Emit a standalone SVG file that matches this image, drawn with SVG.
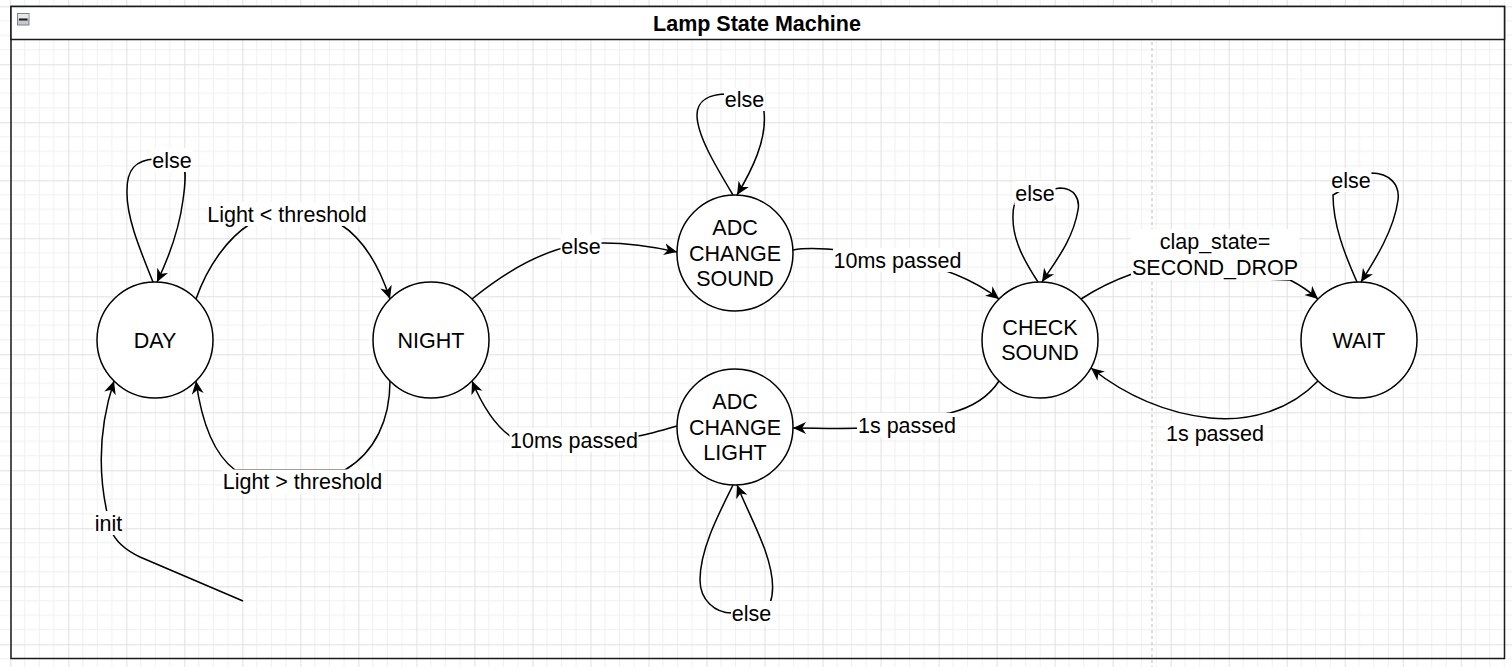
<svg xmlns="http://www.w3.org/2000/svg" width="1512" height="667" viewBox="0 0 1512 667">
<style>
text{font-family:"Liberation Sans",Arial,sans-serif;font-size:21.5px;fill:#000;text-anchor:middle}
.title{font-weight:bold;font-size:21.5px}
.node{fill:#fff;stroke:#000;stroke-width:1.5}
.edge{fill:none;stroke:#000;stroke-width:1.5;marker-end:url(#arrow)}
.lbg{fill:#fff}
</style>
<defs>
<marker id="arrow" markerUnits="userSpaceOnUse" markerWidth="15" markerHeight="14" refX="13" refY="7" orient="auto">
<path d="M0,1 L13,7 L0,13 L3.8,7 Z" fill="#000"/>
</marker>
<pattern id="grid" patternUnits="userSpaceOnUse" x="10.28" y="6.3" width="58.02" height="58">
<path d="M14.5,0V58M29,0V58M43.5,0V58M0,14.5H58.02M0,29H58.02M0,43.5H58.02" stroke="#f0f0f0" stroke-width="1" fill="none"/>
<path d="M0.5,0V58M0,0.5H58.02" stroke="#e0e0e0" stroke-width="1" fill="none"/>
</pattern>
</defs>
<rect x="0" y="0" width="1512" height="667" fill="#fff"/>
<rect x="0" y="0" width="1512" height="667" fill="url(#grid)"/>
<line x1="1152" y1="0" x2="1152" y2="667" stroke="#bdbdbd" stroke-width="1" stroke-dasharray="3,3"/>
<g id="container">
<rect x="11" y="6.5" width="1493.5" height="652" fill="none" stroke="#1a1a1a" stroke-width="1.5"/>
<rect x="11" y="6.5" width="1493.5" height="33" fill="#fff" stroke="#1a1a1a" stroke-width="1.5"/>
<text class="title" x="757" y="31">Lamp State Machine</text>
<rect x="17.5" y="13.5" width="11.5" height="11.5" fill="#c4c8cf" stroke="#7e828a" stroke-width="1"/>
<rect x="18" y="14" width="10.5" height="4.5" fill="#e6e8ec"/>
<line x1="19" y1="19.5" x2="27.5" y2="19.5" stroke="#1a1a1a" stroke-width="2"/>
</g>
<g id="node-day"><circle class="node" cx="155" cy="340" r="58"/><text x="155" y="347.5">DAY</text></g>
<g id="node-night"><circle class="node" cx="431" cy="340" r="58"/><text x="431" y="347.5">NIGHT</text></g>
<g id="node-adc-sound"><circle class="node" cx="735" cy="253" r="58"/><text x="735" y="235">ADC</text><text x="735" y="260.5">CHANGE</text><text x="735" y="286">SOUND</text></g>
<g id="node-adc-light"><circle class="node" cx="735" cy="427" r="58"/><text x="735" y="409">ADC</text><text x="735" y="434.5">CHANGE</text><text x="735" y="460">LIGHT</text></g>
<g id="node-check-sound"><circle class="node" cx="1040" cy="340" r="58"/><text x="1040" y="334.5">CHECK</text><text x="1040" y="360">SOUND</text></g>
<g id="node-wait"><circle class="node" cx="1359" cy="340" r="58"/><text x="1359" y="347.5">WAIT</text></g>
<g id="connectors">
<path class="edge" d="M153,282 C138,245 126,215 127,190 C127,170 135,160 155,159 L180,160 C186,162 186,180 183,200 C179,230 170,255 157,282"/>
<rect class="lbg" x="151.5" y="148" width="41" height="24"/><text x="172" y="167.5">else</text>
<path class="edge" d="M196,299 C208,265 228,238 250,224 C270,212 320,212 340,224 C362,238 378,262 390,299"/>
<rect class="lbg" x="206.5" y="202" width="161" height="24"/><text x="287" y="221.5">Light &lt; threshold</text>
<path class="edge" d="M390,381 C390,420 375,452 345,470 L235,470 C215,455 202,425 196,381"/>
<rect class="lbg" x="222" y="469.5" width="161" height="24"/><text x="302.5" y="489">Light &gt; threshold</text>
<path class="edge" d="M243,601 L140,557 Q117,546 111,530 L110,525 C98,480 98,430 114,381"/>
<rect class="lbg" x="94" y="511" width="29" height="24"/><text x="108.5" y="530.5">init</text>
<path class="edge" d="M472,299 C505,272 540,252 575,245 C610,240 645,245 677,252"/>
<rect class="lbg" x="560.5" y="234.5" width="41" height="24"/><text x="581" y="254">else</text>
<path class="edge" d="M733,195 C715,165 697,135 697,115 C697,100 710,94 728,94 L763,100 L764,112 C767,140 752,170 737,195"/>
<rect class="lbg" x="724" y="87" width="41" height="24"/><text x="744.5" y="106.5">else</text>
<path class="edge" d="M793,250 C815,246 850,250 897,258 C935,265 972,278 999,299"/>
<rect class="lbg" x="833" y="248" width="129" height="24"/><text x="897.5" y="267.5">10ms passed</text>
<path class="edge" d="M1038,282 C1025,262 1012,240 1013,215 C1013,200 1020,193 1030,193 L1060,188 C1075,188 1080,200 1078,210 C1073,240 1055,262 1042,282"/>
<rect class="lbg" x="1014.5" y="181" width="41" height="24"/><text x="1035" y="200.5">else</text>
<path class="edge" d="M1081,299 C1095,290 1112,281 1132,274 L1290,280 C1300,285 1310,292 1318,299"/>
<rect class="lbg" x="1131" y="229" width="168" height="51"/><text x="1215" y="249">clap_state=</text><text x="1215" y="274.5">SECOND_DROP</text>
<path class="edge" d="M1357,282 C1345,255 1333,225 1333,195 L1371,173 C1390,173 1400,185 1398,200 C1394,230 1375,260 1361,282"/>
<rect class="lbg" x="1330.5" y="168" width="41" height="24"/><text x="1351" y="187.5">else</text>
<path class="edge" d="M1318,381 C1290,410 1250,422 1210,418 C1165,413 1125,395 1091,368"/>
<rect class="lbg" x="1165" y="421" width="100" height="24"/><text x="1215" y="440.5">1s passed</text>
<path class="edge" d="M999,381 C988,398 970,408 950,413 L860,428 C840,429 815,428 793,428"/>
<rect class="lbg" x="857" y="413" width="100" height="24"/><text x="907" y="432.5">1s passed</text>
<path class="edge" d="M677,426 C660,431 650,434 638,436 L510,436 C495,425 482,405 472,381"/>
<rect class="lbg" x="509.5" y="428" width="129" height="24"/><text x="574" y="447.5">10ms passed</text>
<path class="edge" d="M733,485 C718,515 700,550 700,580 C700,600 715,613 732,613 L770,603 C775,590 772,570 765,550 C757,528 745,505 737,485"/>
<rect class="lbg" x="731" y="601" width="41" height="24"/><text x="751.5" y="620.5">else</text>
</g>
</svg>
